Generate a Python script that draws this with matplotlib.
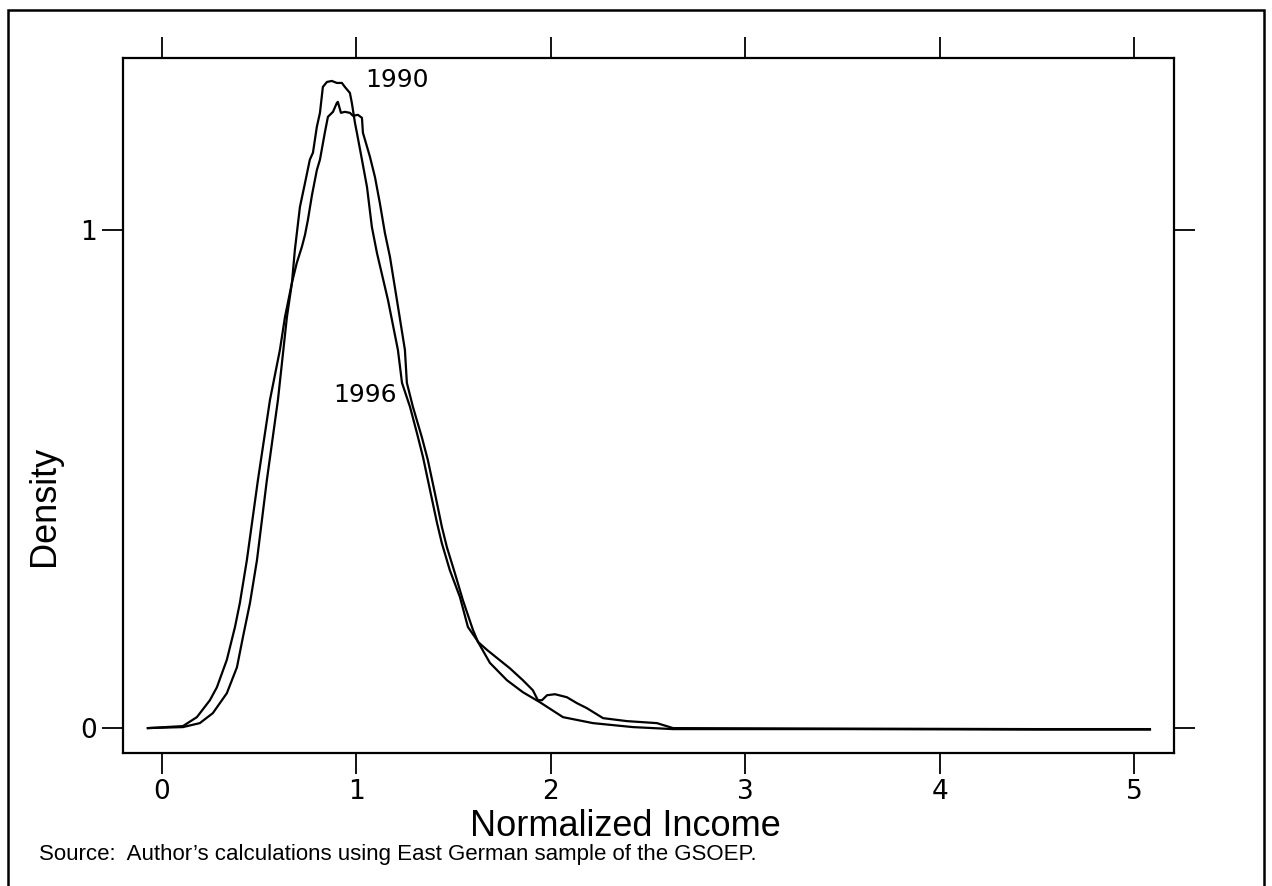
import matplotlib
matplotlib.use("Agg")
import matplotlib.pyplot as plt
from matplotlib.patches import Rectangle

# densidades (ingreso normalizado, densidad)
x_1990 = [-0.072, 0.108, 0.195, 0.262, 0.334, 0.386, 0.417, 0.453, 0.489, 0.540,
          0.597, 0.643, 0.669, 0.684, 0.710, 0.736, 0.761, 0.777, 0.797, 0.813,
          0.828, 0.849, 0.874, 0.900, 0.926, 0.941, 0.967, 0.977, 0.993, 1.003,
          1.029, 1.055, 1.080, 1.106, 1.163, 1.214, 1.235, 1.276, 1.312, 1.343,
          1.379, 1.415, 1.440, 1.481, 1.533, 1.574, 1.620, 1.687, 1.775, 1.857,
          1.944, 2.063, 2.217, 2.423, 2.629, 3.5, 4.5, 5.082]
y_1990 = [0.0, 0.002, 0.010, 0.030, 0.070, 0.122, 0.183, 0.251, 0.337, 0.498,
          0.659, 0.825, 0.894, 0.960, 1.046, 1.094, 1.141, 1.155, 1.207, 1.235,
          1.287, 1.297, 1.299, 1.295, 1.295, 1.287, 1.275, 1.255, 1.215, 1.195,
          1.141, 1.086, 1.006, 0.954, 0.859, 0.759, 0.693, 0.645, 0.592, 0.544,
          0.478, 0.412, 0.371, 0.317, 0.263, 0.203, 0.177, 0.131, 0.096, 0.072,
          0.052, 0.022, 0.010, 0.002, -0.002, -0.002, -0.003, -0.003]

x_1996 = [-0.072, 0.108, 0.180, 0.247, 0.283, 0.334, 0.376, 0.401, 0.437, 0.494,
          0.556, 0.607, 0.633, 0.669, 0.694, 0.720, 0.736, 0.751, 0.772, 0.797,
          0.813, 0.838, 0.854, 0.880, 0.900, 0.905, 0.921, 0.941, 0.967, 0.983,
          1.008, 1.029, 1.034, 1.055, 1.070, 1.096, 1.121, 1.147, 1.173, 1.209,
          1.250, 1.260, 1.291, 1.337, 1.368, 1.404, 1.440, 1.466, 1.507, 1.548,
          1.600, 1.626, 1.672, 1.723, 1.790, 1.857, 1.908, 1.934, 1.955, 1.981,
          2.022, 2.083, 2.135, 2.186, 2.269, 2.392, 2.546, 2.629, 3.5, 4.5, 5.082]
y_1996 = [0.0, 0.004, 0.022, 0.056, 0.082, 0.137, 0.203, 0.251, 0.337, 0.498,
          0.659, 0.759, 0.825, 0.894, 0.934, 0.966, 0.990, 1.020, 1.070, 1.120,
          1.141, 1.195, 1.227, 1.237, 1.255, 1.257, 1.235, 1.237, 1.235, 1.229,
          1.231, 1.225, 1.195, 1.167, 1.147, 1.106, 1.054, 0.994, 0.946, 0.859,
          0.759, 0.693, 0.645, 0.584, 0.538, 0.472, 0.404, 0.363, 0.311, 0.257,
          0.197, 0.173, 0.157, 0.141, 0.120, 0.096, 0.076, 0.056, 0.056, 0.066,
          0.068, 0.062, 0.050, 0.040, 0.020, 0.014, 0.010, 0.0, -0.001, -0.002, -0.002]

ticks_x = [0, 1, 2, 3, 4, 5]
ticks_y = [0, 1]

fig = plt.figure(figsize=(12.72, 8.86), dpi=100)
ax = fig.add_axes([0.0967, 0.1501, 0.8263, 0.7844])

ax.plot(x_1990, y_1990, color="black", lw=1.6)
ax.plot(x_1996, y_1996, color="black", lw=1.6)

ax.text(1.044, 1.301, "1990", fontsize=18, family="DejaVu Sans", va="center", ha="left")
ax.text(0.880, 0.669, "1996", fontsize=18, family="DejaVu Sans", va="center", ha="left")

ax.set_xlim(-0.2, 5.206)
ax.set_ylim(-0.050, 1.345)
ax.set_xticks(ticks_x)
ax.set_yticks(ticks_y)
ax.tick_params(direction="out", length=15, width=1.3, top=True, right=True,
               labelsize=19, pad=4)
ax.tick_params(axis="y", pad=4)
for lab in ax.get_xticklabels() + ax.get_yticklabels():
    lab.set_family("DejaVu Sans")
for sp in ax.spines.values():
    sp.set_linewidth(1.6)

# las etiquetas no van centradas en el eje en el original
ax.set_xlabel("Normalized Income", fontsize=26, family="Liberation Sans")
ax.set_ylabel("Density", fontsize=26, family="Liberation Sans")
ax.xaxis.set_label_coords(0.478, -0.080)
ax.yaxis.set_label_coords(-0.058, 0.356)

fig.text(0.031, 0.035, "Source:  Author\u2019s calculations using East German sample of the GSOEP.",
         fontsize=16, family="Liberation Sans", va="center", ha="left")

fig.patches.append(Rectangle((0.006, -0.01), 0.988, 0.999, transform=fig.transFigure,
                             fill=False, edgecolor="black", lw=1.8))

fig.savefig("out.png", dpi=100)
